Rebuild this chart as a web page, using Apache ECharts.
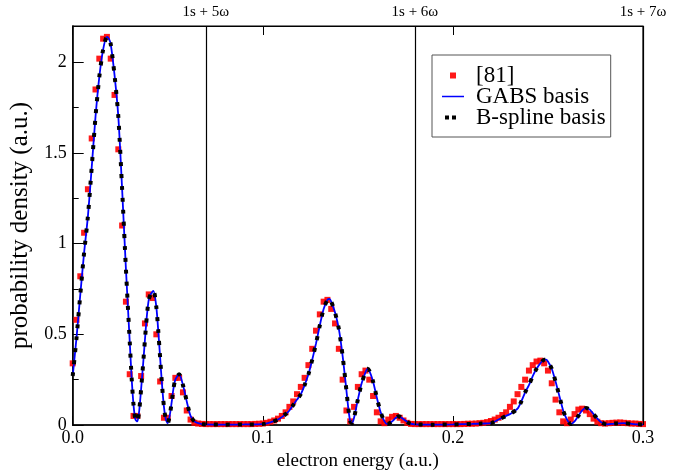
<!DOCTYPE html>
<html>
<head>
<meta charset="utf-8">
<script src="https://cdn.jsdelivr.net/npm/echarts@6/dist/echarts.min.js"></script>
<style>
  html, body { margin: 0; padding: 0; background: #fff; }
  #chart { width: 690px; height: 476px; }
</style>
</head>
<body>
<div id="chart"></div>
<script>
// Photoelectron spectrum: probability density vs electron energy (a.u.)

// GABS basis result (the B-spline curve lies on top of it)
const gabsEnergy = [
  0.000, 0.002, 0.004, 0.006, 0.008, 0.010, 0.012, 0.014, 0.016, 0.018, 0.019, 0.020,
  0.022, 0.024, 0.026, 0.028, 0.030, 0.031, 0.032, 0.033, 0.034, 0.035, 0.036, 0.037,
  0.038, 0.039, 0.040, 0.041, 0.0425, 0.044, 0.045, 0.046, 0.047, 0.048, 0.049, 0.050,
  0.051, 0.052, 0.053, 0.054, 0.056, 0.058, 0.060, 0.062, 0.064, 0.066, 0.068, 0.070,
  0.080, 0.090, 0.100, 0.104, 0.108, 0.112, 0.114, 0.116, 0.118, 0.120, 0.122, 0.124,
  0.126, 0.128, 0.130, 0.132, 0.134, 0.135, 0.136, 0.138, 0.140, 0.142, 0.144, 0.145,
  0.146, 0.147, 0.148, 0.150, 0.152, 0.154, 0.155, 0.156, 0.158, 0.160, 0.162, 0.164,
  0.1655, 0.168, 0.170, 0.1715, 0.173, 0.175, 0.177, 0.180, 0.190, 0.200, 0.210, 0.215,
  0.220, 0.224, 0.228, 0.230, 0.234, 0.236, 0.238, 0.240, 0.242, 0.244, 0.246, 0.248,
  0.249, 0.250, 0.252, 0.254, 0.256, 0.258, 0.260, 0.262, 0.264, 0.266, 0.268, 0.270,
  0.272, 0.274, 0.276, 0.278, 0.281, 0.285, 0.290, 0.295, 0.300
];
const gabsDensity = [
  0.27, 0.48, 0.72, 0.95, 1.15, 1.42, 1.70, 1.92, 2.07, 2.14, 2.13, 2.10,
  1.93, 1.70, 1.30, 0.86, 0.46, 0.26, 0.11, 0.03, 0.02, 0.08, 0.20, 0.33,
  0.47, 0.60, 0.69, 0.72, 0.74, 0.65, 0.52, 0.37, 0.22, 0.10, 0.03, 0.01,
  0.05, 0.12, 0.20, 0.25, 0.28, 0.22, 0.13, 0.05, 0.02, 0.01, 0.005, 0.003,
  0.002, 0.003, 0.005, 0.015, 0.03, 0.06, 0.08, 0.11, 0.14, 0.17, 0.22, 0.28,
  0.36, 0.45, 0.55, 0.64, 0.69, 0.695, 0.68, 0.62, 0.53, 0.38, 0.19, 0.09,
  0.02, 0.01, 0.04, 0.14, 0.23, 0.29, 0.31, 0.30, 0.24, 0.15, 0.07, 0.02,
  0.005, 0.02, 0.04, 0.048, 0.04, 0.025, 0.01, 0.003, 0.002, 0.003, 0.006, 0.008,
  0.01, 0.03, 0.05, 0.06, 0.09, 0.13, 0.18, 0.22, 0.27, 0.31, 0.34, 0.36,
  0.36, 0.35, 0.31, 0.24, 0.16, 0.08, 0.03, 0.005, 0.02, 0.05, 0.08, 0.094,
  0.085, 0.06, 0.035, 0.015, 0.003, 0.008, 0.01, 0.005, 0.002
];
const bsplineEnergy = gabsEnergy;
const bsplineDensity = gabsDensity;

// Reference data [81]
const refEnergy = [
  0.000, 0.002, 0.004, 0.006, 0.008, 0.010, 0.012, 0.014, 0.016, 0.018,
  0.020, 0.022, 0.024, 0.026, 0.028, 0.030, 0.032, 0.034, 0.036, 0.038,
  0.040, 0.042, 0.044, 0.046, 0.048, 0.050, 0.052, 0.054, 0.056, 0.058,
  0.060, 0.062, 0.064, 0.066, 0.068, 0.070, 0.072, 0.074, 0.076, 0.078,
  0.080, 0.082, 0.084, 0.086, 0.088, 0.090, 0.092, 0.094, 0.096, 0.098,
  0.100, 0.102, 0.104, 0.106, 0.108, 0.110, 0.112, 0.114, 0.116, 0.118,
  0.120, 0.122, 0.124, 0.126, 0.128, 0.130, 0.132, 0.134, 0.136, 0.138,
  0.140, 0.142, 0.144, 0.146, 0.148, 0.150, 0.152, 0.154, 0.156, 0.158,
  0.160, 0.162, 0.164, 0.166, 0.168, 0.170, 0.172, 0.174, 0.176, 0.178,
  0.180, 0.182, 0.184, 0.186, 0.188, 0.190, 0.192, 0.194, 0.196, 0.198,
  0.200, 0.202, 0.204, 0.206, 0.208, 0.210, 0.212, 0.214, 0.216, 0.218,
  0.220, 0.222, 0.224, 0.226, 0.228, 0.230, 0.232, 0.234, 0.236, 0.238,
  0.240, 0.242, 0.244, 0.246, 0.248, 0.250, 0.252, 0.254, 0.256, 0.258,
  0.260, 0.262, 0.264, 0.266, 0.268, 0.270, 0.272, 0.274, 0.276, 0.278,
  0.280, 0.282, 0.284, 0.286, 0.288, 0.290, 0.292, 0.294, 0.296, 0.298,
  0.300
];
const refDensity = [
  0.34, 0.58, 0.82, 1.06, 1.30, 1.58, 1.85, 2.02, 2.13, 2.14,
  2.02, 1.82, 1.52, 1.10, 0.68, 0.28, 0.05, 0.05, 0.27, 0.56,
  0.72, 0.70, 0.50, 0.24, 0.04, 0.04, 0.16, 0.26, 0.26, 0.18,
  0.08, 0.03, 0.012, 0.008, 0.006, 0.005, 0.005, 0.005, 0.005, 0.005,
  0.005, 0.005, 0.005, 0.005, 0.005, 0.005, 0.005, 0.005, 0.006, 0.007,
  0.008, 0.012, 0.018, 0.025, 0.035, 0.05, 0.07, 0.10, 0.13, 0.17,
  0.21, 0.26, 0.33, 0.42, 0.52, 0.61, 0.68, 0.69, 0.64, 0.56,
  0.42, 0.25, 0.08, 0.02, 0.10, 0.21, 0.28, 0.30, 0.25, 0.16,
  0.07, 0.02, 0.01, 0.03, 0.045, 0.05, 0.04, 0.025, 0.012, 0.006,
  0.005, 0.005, 0.005, 0.005, 0.005, 0.005, 0.005, 0.005, 0.005, 0.005,
  0.005, 0.005, 0.005, 0.006, 0.007, 0.007, 0.008, 0.010, 0.012, 0.016,
  0.022, 0.030, 0.040, 0.055, 0.07, 0.10, 0.13, 0.17, 0.21, 0.25,
  0.30, 0.33, 0.35, 0.355, 0.34, 0.30, 0.23, 0.14, 0.07, 0.02,
  0.01, 0.03, 0.06, 0.085, 0.09, 0.08, 0.06, 0.035, 0.018, 0.010,
  0.008, 0.010, 0.012, 0.013, 0.014, 0.012, 0.010, 0.008, 0.008, 0.006,
  0.005
];

// Energies of the 1s + nω thresholds
const thresholdEnergy = [0.0696, 0.1842, 0.2984];
const thresholdLabel = ['1s + 5\u03c9', '1s + 6\u03c9', '1s + 7\u03c9'];

const xTicks = [0.0, 0.1, 0.2, 0.3];
const yTicks = [0, 0.5, 1, 1.5, 2];

const pairs = (xs, ys) => xs.map((x, i) => [x, ys[i]]);
const FONT = '"Liberation Serif", "Times New Roman", serif';

const chart = echarts.init(document.getElementById('chart'), null, { renderer: 'canvas' });

const gridBox = { left: 72.7, right: 47, top: 26, bottom: 49.5 };

chart.setOption({
  animation: false,
  backgroundColor: '#fff',
  grid: Object.assign({ show: true, borderColor: '#000', borderWidth: 1.2, containLabel: false }, gridBox),
  legend: {
    orient: 'vertical',
    left: 432,
    top: 55,
    backgroundColor: '#fff',
    borderColor: '#555',
    borderWidth: 1,
    borderRadius: 0,
    padding: [9, 5, 8, 8],
    itemGap: -2,
    itemWidth: 22,
    itemHeight: 6,
    textStyle: { fontFamily: FONT, fontSize: 23, lineHeight: 21, color: '#000', padding: [0, 0, 0, 7] },
    data: [
      { name: '[81]', icon: 'path://M0 0H1V1H0Z' },
      { name: 'GABS basis', itemStyle: { opacity: 0 }, lineStyle: { color: '#0000ff', width: 1.5, type: 'solid' } },
      {
        name: 'B-spline basis', itemStyle: { opacity: 0 },
        lineStyle: { color: '#000', width: 4, type: [4, 3, 4, 20], dashOffset: -3, cap: 'butt' }
      }
    ]
  },
  xAxis: [
    {
      type: 'value',
      min: 0, max: 0.3, interval: 0.1,
      name: 'electron energy (a.u.)',
      nameLocation: 'middle',
      nameGap: 27,
      nameTextStyle: { fontFamily: FONT, fontSize: 19, color: '#000' },
      axisLine: { show: true, onZero: false, lineStyle: { color: '#000', width: 1.5 } },
      axisTick: { show: true, inside: true, length: 9, lineStyle: { color: '#000', width: 1 } },
      axisLabel: {
        fontFamily: FONT, fontSize: 18, color: '#000', margin: 4,
        formatter: v => xTicks.some(t => Math.abs(t - v) < 1e-9) ? v.toFixed(1) : ''
      },
      splitLine: { show: false }
    },
    {
      type: 'value',
      position: 'top',
      min: 0, max: 0.3, interval: 0.1,
      axisLine: { show: true, onZero: false, lineStyle: { color: '#000', width: 1.2 } },
      axisTick: { show: true, inside: true, length: 9, lineStyle: { color: '#000' } },
      axisLabel: { show: false },
      splitLine: { show: false }
    }
  ],
  yAxis: [
    {
      type: 'value',
      position: 'left',
      min: 0, max: 2.2, interval: 0.5,
      name: 'probability density (a.u.)',
      nameLocation: 'middle',
      nameGap: 37,
      nameTextStyle: { fontFamily: FONT, fontSize: 25, color: '#000' },
      axisLine: { show: true, onZero: false, lineStyle: { color: '#000', width: 1.5 } },
      axisTick: { show: true, inside: true, length: 11, lineStyle: { color: '#000' } },
      axisLabel: {
        fontFamily: FONT, fontSize: 18, color: '#000', margin: 6, showMaxLabel: false,
        formatter: v => yTicks.some(t => Math.abs(t - v) < 1e-9) ? String(v) : ''
      },
      splitLine: { show: false }
    },
    {
      // minor ticks every 0.25 on the left edge
      type: 'value',
      position: 'left',
      min: 0, max: 2.2, interval: 0.25,
      axisLine: { show: false, onZero: false },
      axisTick: { show: true, inside: true, length: 6, lineStyle: { color: '#000' } },
      axisLabel: { show: false },
      splitLine: { show: false }
    }
  ],
  series: [
    {
      name: '[81]',
      type: 'scatter',
      symbol: 'rect',
      symbolSize: 6,
      itemStyle: { color: '#ff0000', opacity: 0.9 },
      data: pairs(refEnergy, refDensity),
      z: 2
    },
    {
      name: 'GABS basis',
      type: 'line',
      symbol: 'none',
      smooth: 0.25,
      lineStyle: { color: '#0000ff', width: 1.8 },
      itemStyle: { color: '#0000ff' },
      data: pairs(gabsEnergy, gabsDensity),
      z: 3,
      markLine: {
        silent: true,
        symbol: ['none', 'none'],
        lineStyle: { color: '#000', width: 1.2, type: 'solid' },
        label: {
          show: true, position: 'end', distance: 6,
          fontFamily: FONT, fontSize: 15, color: '#000',
          formatter: p => thresholdLabel[p.dataIndex]
        },
        data: thresholdEnergy.map(e => ({ xAxis: e }))
      }
    },
    {
      name: 'B-spline basis',
      type: 'line',
      symbol: 'none',
      smooth: 0.25,
      lineStyle: { color: '#000', width: 4, type: [4, 8], cap: 'butt' },
      itemStyle: { color: '#000' },
      data: pairs(bsplineEnergy, bsplineDensity),
      z: 4
    }
  ]
});
</script>
</body>
</html>
